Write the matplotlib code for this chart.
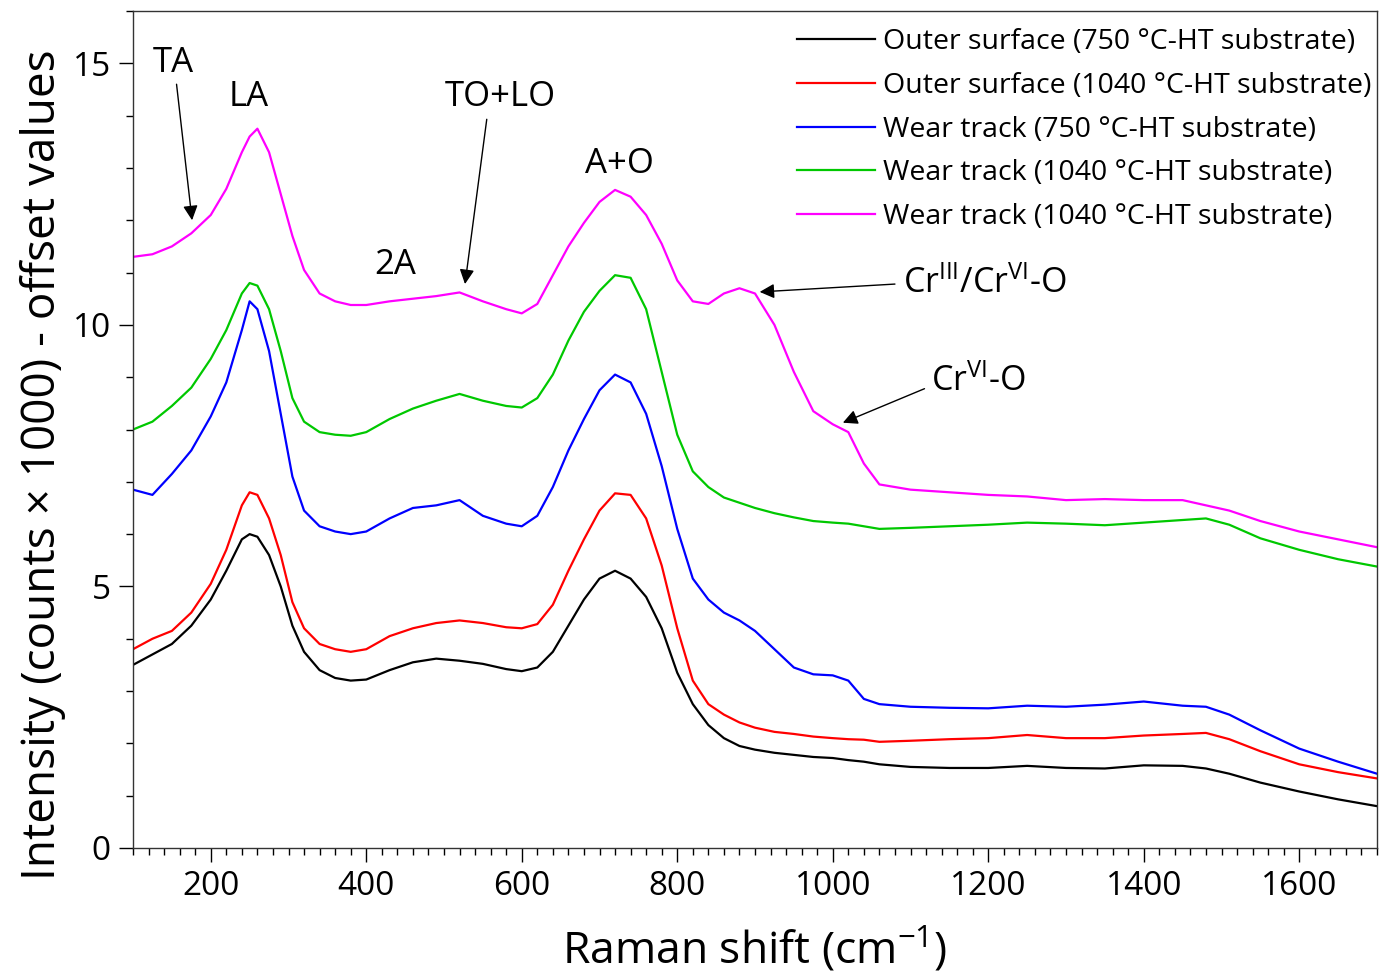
import matplotlib
matplotlib.use("Agg")
import matplotlib.pyplot as plt

plt.rcParams['font.family'] = ['Open Sans', 'DejaVu Sans']
plt.rcParams['mathtext.fontset'] = 'custom'
plt.rcParams['mathtext.rm'] = 'Open Sans'

raman_shift = [100, 125, 150, 175, 200, 220, 240, 250, 260, 275, 290, 305, 320, 340, 360, 380,
               400, 430, 460, 490, 520, 550, 580, 600, 620, 640, 660, 680, 700, 720, 740, 760,
               780, 800, 820, 840, 860, 880, 900, 925, 950, 975, 1000, 1020, 1040, 1060, 1100,
               1150, 1200, 1250, 1300, 1350, 1400, 1450, 1480, 1510, 1550, 1600, 1650, 1700]

outer_750 = [3.5, 3.7, 3.9, 4.25, 4.75, 5.3, 5.9, 6.0, 5.95, 5.6, 5.0, 4.25, 3.75, 3.4, 3.25, 3.2,
             3.22, 3.4, 3.55, 3.62, 3.58, 3.52, 3.42, 3.38, 3.45, 3.75, 4.25, 4.75, 5.15, 5.3, 5.15, 4.8,
             4.2, 3.35, 2.75, 2.35, 2.1, 1.95, 1.88, 1.82, 1.78, 1.74, 1.72, 1.68, 1.65, 1.6, 1.55,
             1.53, 1.53, 1.57, 1.53, 1.52, 1.58, 1.57, 1.52, 1.42, 1.25, 1.08, 0.93, 0.8]

outer_1040 = [3.8, 4.0, 4.15, 4.5, 5.05, 5.7, 6.55, 6.8, 6.75, 6.3, 5.6, 4.7, 4.2, 3.9, 3.8, 3.75,
              3.8, 4.05, 4.2, 4.3, 4.35, 4.3, 4.22, 4.2, 4.28, 4.65, 5.3, 5.9, 6.45, 6.78, 6.75, 6.3,
              5.4, 4.2, 3.2, 2.75, 2.55, 2.4, 2.3, 2.22, 2.18, 2.13, 2.1, 2.08, 2.07, 2.03, 2.05,
              2.08, 2.1, 2.16, 2.1, 2.1, 2.15, 2.18, 2.2, 2.08, 1.85, 1.6, 1.45, 1.33]

wear_750 = [6.85, 6.75, 7.15, 7.6, 8.25, 8.9, 9.9, 10.45, 10.3, 9.5, 8.3, 7.1, 6.45, 6.15, 6.05, 6.0,
            6.05, 6.3, 6.5, 6.55, 6.65, 6.35, 6.2, 6.15, 6.35, 6.9, 7.6, 8.2, 8.75, 9.05, 8.9, 8.3,
            7.3, 6.1, 5.15, 4.75, 4.5, 4.35, 4.15, 3.8, 3.45, 3.32, 3.3, 3.2, 2.85, 2.75, 2.7,
            2.68, 2.67, 2.72, 2.7, 2.74, 2.8, 2.72, 2.7, 2.55, 2.25, 1.9, 1.65, 1.42]

wear_1040_a = [8.0, 8.15, 8.45, 8.8, 9.35, 9.9, 10.6, 10.8, 10.75, 10.3, 9.5, 8.6, 8.15, 7.95, 7.9, 7.88,
               7.95, 8.2, 8.4, 8.55, 8.68, 8.55, 8.45, 8.42, 8.6, 9.05, 9.7, 10.25, 10.65, 10.95, 10.9, 10.3,
               9.1, 7.9, 7.2, 6.9, 6.7, 6.6, 6.5, 6.4, 6.32, 6.25, 6.22, 6.2, 6.15, 6.1, 6.12,
               6.15, 6.18, 6.22, 6.2, 6.17, 6.22, 6.27, 6.3, 6.18, 5.92, 5.7, 5.52, 5.38]

wear_1040_b = [11.3, 11.35, 11.5, 11.75, 12.1, 12.6, 13.3, 13.6, 13.75, 13.3, 12.5, 11.7, 11.05, 10.6, 10.45, 10.38,
               10.38, 10.45, 10.5, 10.55, 10.62, 10.45, 10.3, 10.22, 10.4, 10.95, 11.5, 11.95, 12.35, 12.58, 12.45, 12.1,
               11.55, 10.85, 10.45, 10.4, 10.6, 10.7, 10.6, 10.0, 9.1, 8.35, 8.1, 7.95, 7.35, 6.95, 6.85,
               6.8, 6.75, 6.72, 6.65, 6.67, 6.65, 6.65, 6.55, 6.45, 6.25, 6.05, 5.9, 5.75]

series_labels = ["Outer surface (750 °C-HT substrate)",
                 "Outer surface (1040 °C-HT substrate)",
                 "Wear track (750 °C-HT substrate)",
                 "Wear track (1040 °C-HT substrate)",
                 "Wear track (1040 °C-HT substrate)"]
series_values = [outer_750, outer_1040, wear_750, wear_1040_a, wear_1040_b]
series_colors = ["#000000", "#ff0000", "#0000ff", "#00c800", "#ff00ff"]

fig = plt.figure(figsize=(13.91, 9.73), dpi=100)
ax = fig.add_axes([133/1391, 1 - 848/973, (1377-133)/1391, (848-11)/973])

for vals, lab, col in zip(series_values, series_labels, series_colors):
    ax.plot(raman_shift, vals, color=col, lw=1.6, label=lab)

ax.set_xlim(100, 1700)
ax.set_ylim(0, 16)
ax.set_xticks([200, 400, 600, 800, 1000, 1200, 1400, 1600])
ax.set_xticks(range(100, 1701, 20), minor=True)
ax.set_yticks([0, 5, 10, 15])
ax.set_yticks(range(0, 17), minor=True)
ax.tick_params(which='major', length=10, width=1, labelsize=24, direction='out', pad=6)
ax.tick_params(which='minor', length=5, width=1, direction='out')
for s in ax.spines.values():
    s.set_linewidth(1)
    s.set_color('#333333')

ax.set_xlabel("Raman shift (cm$^{-1}$)", fontsize=32)
ax.set_ylabel("Intensity (counts \u00d7 1000) - offset values", fontsize=33)
ax.xaxis.set_label_coords(0.5, -0.092)
ax.yaxis.set_label_coords(-0.054, 0.458)

leg = ax.legend(loc='upper right', bbox_to_anchor=(1.0, 0.986), frameon=False, fontsize=20.5,
                handlelength=2.74, handletextpad=0.28, labelspacing=0.55, borderaxespad=0.0,
                borderpad=0.2)

arrow = dict(arrowstyle='-|>', color='black', lw=1, mutation_scale=22, shrinkA=0, shrinkB=0)
tfs = 25
ax.text(152, 15.0, "TA", fontsize=tfs, ha='center', va='center')
ax.annotate("", xy=(176, 12.0), xytext=(156, 14.6), arrowprops=arrow)
ax.text(249, 14.35, "LA", fontsize=tfs, ha='center', va='center')
ax.text(572, 14.35, "TO+LO", fontsize=tfs, ha='center', va='center')
ax.annotate("", xy=(527, 10.78), xytext=(555, 13.93), arrowprops=arrow)
ax.text(437, 11.15, "2A", fontsize=tfs, ha='center', va='center')
ax.text(726, 13.07, "A+O", fontsize=tfs, ha='center', va='center')
ax.text(1090, 10.78, "Cr$^{\\mathregular{III}}$/Cr$^{\\mathregular{VI}}$-O", fontsize=24.5, ha='left', va='center')
ax.annotate("", xy=(906, 10.63), xytext=(1080, 10.78), arrowprops=arrow)
ax.text(1126, 8.91, "Cr$^{\\mathregular{VI}}$-O", fontsize=24.5, ha='left', va='center')
ax.annotate("", xy=(1013, 8.13), xytext=(1118, 8.78), arrowprops=arrow)

fig.savefig("out.png", dpi=100)
